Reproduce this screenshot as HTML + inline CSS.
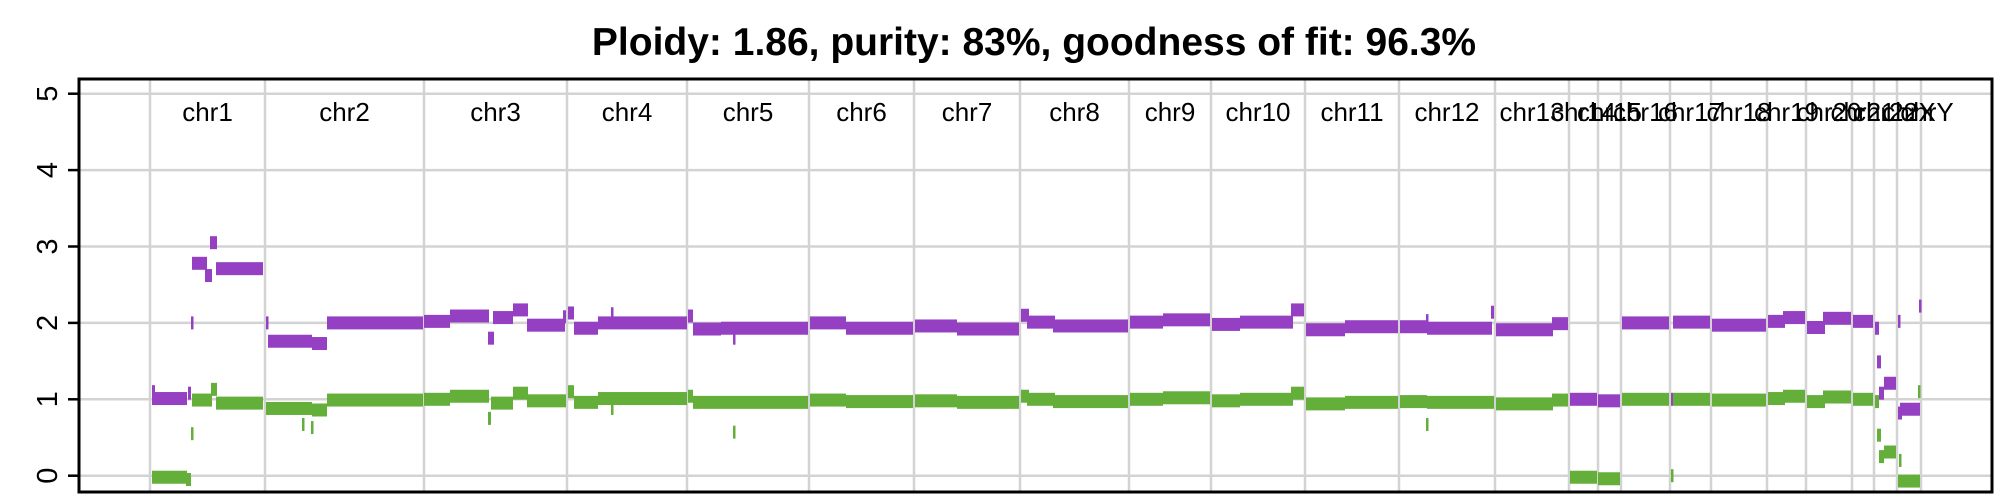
<!DOCTYPE html>
<html><head><meta charset="utf-8">
<style>
html,body{margin:0;padding:0;background:#fff;}
svg{display:block;font-family:"Liberation Sans",Arial,sans-serif;}
</style></head>
<body>
<svg id="chart" width="2000" height="500" viewBox="0 0 2000 500" xmlns="http://www.w3.org/2000/svg">
<rect x="0" y="0" width="2000" height="500" fill="#fff"/>
<text x="1034" y="55" text-anchor="middle" font-size="39" font-weight="bold" fill="#000">Ploidy: 1.86, purity: 83%, goodness of fit: 96.3%</text>
<g id="grid"></g>
<g id="major"></g>
<g id="minor"></g>
<g id="labels"></g>
<g id="yaxis"></g>
<rect x="79" y="79" width="1913" height="413" fill="none" stroke="#000" stroke-width="3"/>
</svg>
<script>
const chromNames = ["chr1","chr2","chr3","chr4","chr5","chr6","chr7","chr8","chr9","chr10","chr11","chr12","chr13","chr14","chr15","chr16","chr17","chr18","chr19","chr20","chr21","chr22","chrX","chrY"];
const chromStarts = [0,115,274,417,537,659,764,870,979,1061,1155,1249,1345,1419,1448,1471,1520,1561,1617,1656,1702,1724,1747,1771];
const chromEnds   = [115,274,417,537,659,764,870,979,1061,1155,1249,1345,1419,1448,1471,1520,1561,1617,1656,1702,1724,1747,1771,1771];
const yTicks = [0,1,2,3,4,5];
const yTickLabels = ["0","1","2","3","4","5"];

const majStart = [2,2,38,41,42,55,60,66, 116,118,162,177, 274,300,338,343,363,377,413, 418,424,448,461, 538,543,571,583, 660,696, 765,807, 871,877,903, 980,1013, 1062,1090,1141, 1156,1195, 1250,1277,1276,1341, 1346,1402, 1420,1448, 1472,1521, 1523,1562, 1618,1633, 1657,1673, 1703, 1725,1727,1729,1734, 1748,1748,1750,1769];
const majEnd   = [37,5,41,43,57,62,67,113, 118,162,177,273, 300,339,344,363,378,415,416, 424,448,537,463, 543,571,658,585, 696,763, 807,869, 879,905,978, 1013,1060, 1090,1143,1154, 1195,1248, 1277,1342,1278,1344, 1403,1418, 1447,1470, 1519,1523, 1560,1616, 1635,1655, 1675,1701, 1723, 1729,1731,1734,1746, 1750,1752,1770,1771];
const majVal   = [1.01,1.1,1.08,2.0,2.78,2.62,3.05,2.71, 2.0,1.76,1.73,2.0, 2.02,2.09,1.8,2.07,2.17,1.97,2.08, 2.13,1.93,2.0,2.12, 2.09,1.92,1.93,1.8, 2.0,1.93, 1.96,1.92, 2.1,2.01,1.96, 2.01,2.04, 1.98,2.01,2.17, 1.91,1.95, 1.95,1.93,2.03,2.14, 1.91,1.99, 1.0,0.98, 2.0,1.0, 2.01,1.97, 2.02,2.07, 1.94,2.06, 2.02, 1.93,1.49,1.08,1.21, 2.02,0.82,0.87,2.22];

const minStart = [2,36,41,42,61,66, 116,162,152,161,177, 274,300,338,341,363,377, 418,424,448,461, 538,543,571,583, 660,696, 765,807, 871,877,903, 980,1013, 1062,1090,1141, 1156,1195, 1250,1277,1276, 1346,1402, 1420,1448, 1472,1521, 1523,1562, 1618,1633, 1657,1673, 1703, 1725,1727,1729,1734, 1749,1748,1768];
const minEnd   = [37,41,43,62,67,113, 162,177,154,163,273, 300,339,341,363,378,416, 424,448,537,463, 543,571,658,585, 696,763, 807,869, 879,905,978, 1013,1060, 1090,1143,1154, 1195,1248, 1277,1344,1278, 1403,1418, 1447,1470, 1519,1523, 1560,1616, 1635,1655, 1675,1701, 1723, 1729,1731,1734,1746, 1751,1770,1770];
const minVal   = [-0.02,-0.05,0.55,0.99,1.13,0.95, 0.88,0.86,0.67,0.63,0.99, 1.0,1.04,0.75,0.95,1.08,0.98, 1.1,0.96,1.01,0.88, 1.04,0.96,0.96,0.57, 0.99,0.97, 0.98,0.96, 1.04,1.0,0.97, 1.0,1.02, 0.98,1.0,1.08, 0.94,0.96, 0.97,0.96,0.67, 0.94,0.99, -0.02,-0.04, 1.0,0.0, 1.0,0.99, 1.01,1.04, 0.97,1.03, 1.0, 0.97,0.53,0.25,0.31, 0.2,-0.07,1.1];

const NS = "http://www.w3.org/2000/svg";
const X0 = 150, X1 = 1921, DMAX = 1771;
function xs(v){ return X0 + (v / DMAX) * (X1 - X0); }
function ys(v){ return 475.7 - v * 76.4; }
function mk(tag, attrs, parent){
  const e = document.createElementNS(NS, tag);
  for (const k in attrs) e.setAttribute(k, attrs[k]);
  parent.appendChild(e);
  return e;
}
const grid = document.getElementById('grid');
yTicks.forEach(function(t){
  const l = mk('line', {x1:79, x2:1992, y1:ys(t), y2:ys(t), stroke:'#d3d3d3', 'stroke-width':2.5}, grid);
  
  
});
chromStarts.forEach(function(s){
  const l = mk('line', {x1:xs(s), x2:xs(s), y1:79, y2:492, stroke:'#d3d3d3', 'stroke-width':2.5}, grid);
  
  
});
const labels = document.getElementById('labels');
chromNames.forEach(function(n, i){
  const cx = xs((chromStarts[i] + chromEnds[i]) / 2);
  const t = mk('text', {x:cx + (n === 'chrY' ? 6 : 0), y:121, 'text-anchor':'middle', 'font-size':26, fill:'#000'}, labels);
  t.textContent = n;
  
  
});
function drawSeries(gid, starts, ends, vals, color){
  const g = document.getElementById(gid);
  for (let i = 0; i < starts.length; i++){
    const x1 = xs(starts[i]), x2 = xs(ends[i]);
    const r = mk('rect', {x:x1, y:ys(vals[i]) - 6.5, width:Math.max(x2 - x1, 2.5), height:13, fill:color}, g);
    
    
  }
}
drawSeries('major', majStart, majEnd, majVal, '#9540C2');
drawSeries('minor', minStart, minEnd, minVal, '#63AF3A');
const yaxis = document.getElementById('yaxis');
yTicks.forEach(function(t, i){
  const tk = mk('line', {x1:68, x2:79, y1:ys(t), y2:ys(t), stroke:'#000', 'stroke-width':2.5}, yaxis);
  
  
  const y = ys(t);
  const tx = mk('text', {x:0, y:0, transform:'translate(57,' + y + ') rotate(-90)', 'text-anchor':'middle', 'font-size':29, fill:'#000'}, yaxis);
  tx.textContent = yTickLabels[i];
  
  
});
</script>
</body></html>
